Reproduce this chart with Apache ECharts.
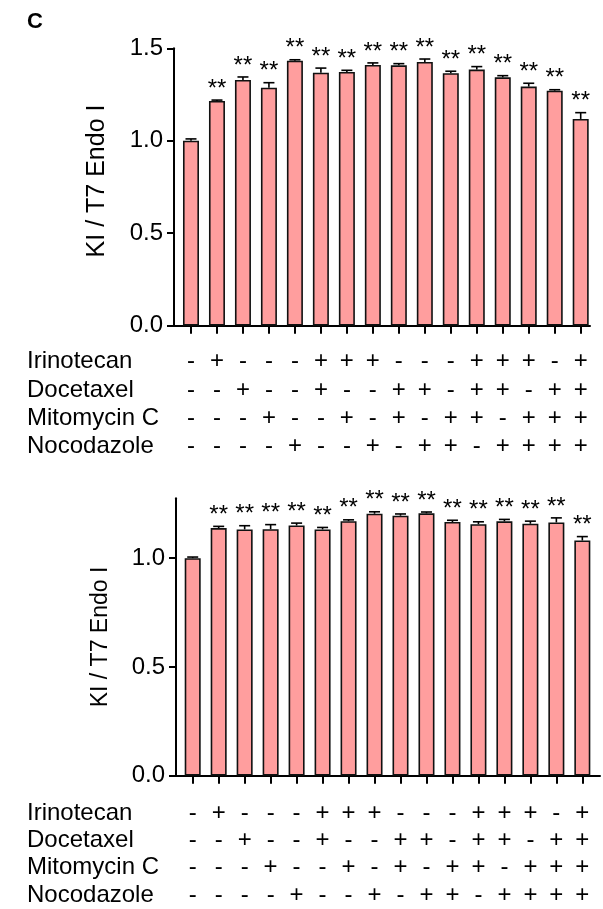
<!DOCTYPE html>
<html>
<head>
<meta charset="utf-8">
<script src="https://cdn.jsdelivr.net/npm/echarts@6/dist/echarts.min.js"></script>
<style>
  html, body { margin: 0; padding: 0; background: #fff; }
  #chart { width: 603px; height: 909px; }
</style>
</head>
<body>
<div id="chart"></div>
<script>
// Treatment design: one column per condition, '+' = drug present
const treatments = ['Irinotecan', 'Docetaxel', 'Mitomycin C', 'Nocodazole'];
const irinotecan = ['-', '+', '-', '-', '-', '+', '+', '+', '-', '-', '-', '+', '+', '+', '-', '+'];
const docetaxel  = ['-', '-', '+', '-', '-', '+', '-', '-', '+', '+', '-', '+', '+', '-', '+', '+'];
const mitomycinC = ['-', '-', '-', '+', '-', '-', '+', '-', '+', '-', '+', '+', '-', '+', '+', '+'];
const nocodazole = ['-', '-', '-', '-', '+', '-', '-', '+', '-', '+', '+', '-', '+', '+', '+', '+'];

// Upper panel: KI / T7 Endo I ratio, mean and SEM
const topMeans  = [1.000, 1.215, 1.329, 1.287, 1.433, 1.368, 1.372, 1.410, 1.408, 1.426, 1.365, 1.385, 1.343, 1.293, 1.271, 1.118];
const topErrors = [0.010, 0.005, 0.016, 0.027, 0.005, 0.025, 0.009, 0.011, 0.009, 0.016, 0.011, 0.016, 0.009, 0.018, 0.005, 0.034];
const topSig    = ['', '**', '**', '**', '**', '**', '**', '**', '**', '**', '**', '**', '**', '**', '**', '**'];

// Lower panel
const bottomMeans  = [1.000, 1.138, 1.132, 1.133, 1.150, 1.132, 1.170, 1.204, 1.195, 1.206, 1.166, 1.156, 1.169, 1.158, 1.164, 1.081];
const bottomErrors = [0.005, 0.008, 0.017, 0.021, 0.011, 0.009, 0.006, 0.009, 0.008, 0.006, 0.008, 0.011, 0.009, 0.012, 0.021, 0.018];
const bottomSig    = ['', '**', '**', '**', '**', '**', '**', '**', '**', '**', '**', '**', '**', '**', '**', '**'];

const topYTicks = [0, 0.5, 1.0, 1.5];
const bottomYTicks = [0, 0.5, 1.0];
const yTitle = 'KI / T7 Endo I';
const panelLetter = 'C';

const FONT = 'Arial, "Liberation Sans", Helvetica, sans-serif';
const BAR_FILL = '#ff9e9e';
const INK = '#000';

const rows = [irinotecan, docetaxel, mitomycinC, nocodazole];
const positions = topMeans.map((_, i) => i);

function tableLabel(v) {
  const i = Math.round(v);
  return rows.map(r => r[i]).join('\n');
}

function barData(means) {
  return means.map((m, i) => [i, m]);
}
function errData(means, errs) {
  return means.map((m, i) => [i, m, errs[i]]);
}

function errorBarRenderer(sig) {
  return function (params, api) {
    const i = api.value(0), m = api.value(1), e = api.value(2);
    const base = api.coord([i, m]);
    const top = api.coord([i, m + e]);
    const half = 5.5;
    const children = [
      { type: 'line', shape: { x1: base[0], y1: base[1], x2: top[0], y2: top[1] },
        style: { stroke: INK, lineWidth: 1.6 } },
      { type: 'line', shape: { x1: top[0] - half, y1: top[1], x2: top[0] + half, y2: top[1] },
        style: { stroke: INK, lineWidth: 1.6 } }
    ];
    if (sig[i]) {
      children.push({
        type: 'text',
        style: { text: sig[i], x: top[0], y: top[1] - 11, align: 'center', verticalAlign: 'middle',
                 fontSize: 24, fontFamily: FONT, fill: INK }
      });
    }
    return { type: 'group', children };
  };
}

function xAxisFor(gridIndex, min, max, margin, lineHeight) {
  return {
    type: 'value', gridIndex, min, max,
    axisLine: { show: true, onZero: false, lineStyle: { color: INK, width: 2 } },
    axisTick: { show: true, customValues: positions, length: 8, lineStyle: { color: INK, width: 2 } },
    axisLabel: { customValues: positions, formatter: tableLabel, fontSize: 24, fontFamily: FONT,
                 color: INK, lineHeight, margin },
    splitLine: { show: false }
  };
}

function yAxisFor(gridIndex, max, ticks, nameSize, nameGap, namePadding) {
  return {
    type: 'value', gridIndex, min: 0, max,
    axisLine: { show: true, onZero: false, lineStyle: { color: INK, width: 2 } },
    axisTick: { show: true, customValues: ticks, length: 7, lineStyle: { color: INK, width: 2 } },
    axisLabel: { customValues: ticks, formatter: v => v.toFixed(1), fontSize: 24, fontFamily: FONT,
                 color: INK, margin: 11 },
    splitLine: { show: false },
    name: yTitle, nameLocation: 'middle', nameRotate: 90, nameGap,
    nameTextStyle: { fontSize: nameSize, fontFamily: FONT, color: INK, padding: namePadding }
  };
}

// Geometry of the two panels
const topGrid = { left: 174, top: 48.3, width: 416, height: 277.4 };
const bottomGrid = { left: 176, top: 498.3, width: 424, height: 277.4 };
const topTable = { first: 36, step: 28.2 };
const bottomTable = { first: 37.3, step: 27.3 };

function rowNames(grid, table) {
  const axisY = grid.top + grid.height;
  return treatments.map((name, k) => ({
    type: 'text', x: 27, y: axisY + table.first + k * table.step,
    style: { text: name, fontSize: 24, fontFamily: FONT, fill: INK, verticalAlign: 'middle' }
  }));
}

const barStyle = { color: BAR_FILL, borderColor: '#111', borderWidth: 1.6 };

const option = {
  backgroundColor: '#fff',
  animation: false,
  title: { text: panelLetter, left: 22, top: 6,
           textStyle: { fontSize: 22, fontWeight: 'bold', fontFamily: FONT, color: INK } },
  grid: [
    Object.assign({ containLabel: false }, topGrid),
    Object.assign({ containLabel: false }, bottomGrid)
  ],
  xAxis: [
    xAxisFor(0, -0.654, 15.358, 22, topTable.step),
    xAxisFor(1, -0.643, 15.68, 23.7, bottomTable.step)
  ],
  yAxis: [
    yAxisFor(0, 1.5, topYTicks, 25, 64, [0, 0, 0, 12]),
    yAxisFor(1, 1.275, bottomYTicks, 23, 64, 0)
  ],
  series: [
    { type: 'bar', xAxisIndex: 0, yAxisIndex: 0, data: barData(topMeans), barWidth: 16, itemStyle: barStyle },
    { type: 'custom', xAxisIndex: 0, yAxisIndex: 0, data: errData(topMeans, topErrors),
      renderItem: errorBarRenderer(topSig), z: 5 },
    { type: 'bar', xAxisIndex: 1, yAxisIndex: 1, data: barData(bottomMeans), barWidth: 16, itemStyle: barStyle },
    { type: 'custom', xAxisIndex: 1, yAxisIndex: 1, data: errData(bottomMeans, bottomErrors),
      renderItem: errorBarRenderer(bottomSig), z: 5 }
  ],
  graphic: rowNames(topGrid, topTable).concat(rowNames(bottomGrid, bottomTable))
};

const chart = echarts.init(document.getElementById('chart'), null, { renderer: 'canvas' });
chart.setOption(option);
</script>
</body>
</html>
